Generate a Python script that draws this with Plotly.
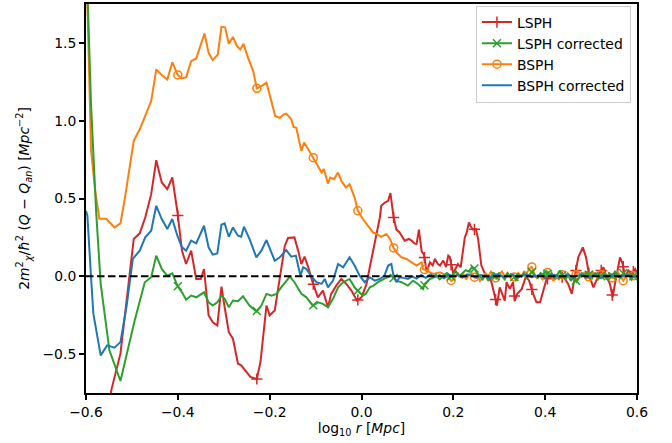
import numpy as np
import plotly.graph_objects as go

# x = log10 r [Mpc], y = 2 m_chi^2/hbar^2 (Q - Q_an) [Mpc^-2]

LSPH_X = [
    -0.600, -0.575, -0.548, -0.545, -0.525, -0.512, -0.496, -0.483, -0.471, -0.458,
    -0.447, -0.435, -0.423, -0.412, -0.401, -0.391, -0.382, -0.371, -0.360, -0.350,
    -0.343, -0.333, -0.324, -0.314, -0.305, -0.298, -0.289, -0.280, -0.269, -0.262,
    -0.254, -0.242, -0.228, -0.220, -0.207, -0.200, -0.189, -0.178, -0.167, -0.160,
    -0.146, -0.138, -0.131, -0.124, -0.116, -0.106, -0.095, -0.084, -0.073, -0.066,
    -0.055, -0.044, -0.033, -0.022, -0.010, 0.000, 0.011, 0.018, 0.029, 0.040,
    0.043, 0.051, 0.058, 0.063, 0.070, 0.076, 0.083, 0.094, 0.103, 0.109,
    0.116, 0.120, 0.125, 0.131, 0.136, 0.142, 0.149, 0.155, 0.160, 0.166,
    0.171, 0.178, 0.184, 0.189, 0.192, 0.196, 0.200, 0.205, 0.210, 0.216,
    0.221, 0.225, 0.229, 0.234, 0.238, 0.243, 0.249, 0.254, 0.261, 0.269,
    0.276, 0.283, 0.290, 0.295, 0.301, 0.307, 0.312, 0.316, 0.323, 0.330,
    0.334, 0.339, 0.349, 0.358, 0.365, 0.374, 0.381, 0.389, 0.396, 0.402,
    0.410, 0.421, 0.432, 0.443, 0.450, 0.458, 0.465, 0.472, 0.482, 0.489,
    0.496, 0.505, 0.513, 0.519, 0.527, 0.534, 0.541, 0.547, 0.552, 0.559,
    0.563, 0.569, 0.574, 0.581, 0.588, 0.596, 0.600,
]
LSPH_Y = [
    -1.50, -1.10, -0.80, -0.733, -0.497, -0.156, 0.240, 0.276, 0.378, 0.528,
    0.746, 0.603, 0.560, 0.635, 0.415, 0.165, 0.079, 0.165, -0.017, -0.017,
    0.047, -0.252, -0.295, -0.316, -0.066, -0.199, -0.359, -0.401, -0.562, -0.572,
    -0.604, -0.647, -0.660, -0.551, -0.188, -0.252, -0.220, -0.006, 0.197, 0.246,
    0.250, 0.165, 0.079, 0.126, 0.058, -0.042, -0.135, -0.092, -0.199, -0.113,
    -0.060, -0.017, -0.049, -0.092, -0.156, -0.135, -0.049, 0.058, 0.229, 0.378,
    0.453, 0.474, 0.485, 0.535, 0.378, 0.300, 0.282, 0.229, 0.240, 0.229,
    0.210, 0.208, 0.300, 0.160, 0.139, 0.030, 0.090, 0.070, 0.112, 0.080,
    0.069, 0.101, 0.060, 0.133, 0.126, 0.058, 0.015, 0.050, 0.079, 0.058,
    0.165, 0.250, 0.280, 0.346, 0.320, 0.300, 0.304, 0.240, 0.069, 0.015,
    0.004, -0.038, -0.124, -0.188, -0.071, -0.124, -0.156, -0.038, -0.081, -0.038,
    -0.156, -0.113, -0.081, -0.002, -0.028, -0.113, -0.167, -0.167, -0.092, -0.028,
    0.004, -0.017, 0.004, -0.017, -0.049, -0.113, 0.004, 0.122, 0.186, 0.122,
    0.004, -0.071, -0.017, 0.026, 0.058, -0.006, -0.049, -0.135, -0.049, 0.058,
    0.122, 0.079, -0.006, 0.037, 0.015, 0.047, 0.020,
]

BSPH_X = [
    -0.600, -0.597, -0.589, -0.580, -0.571, -0.556, -0.538, -0.525, -0.516, -0.496,
    -0.483, -0.472, -0.458, -0.447, -0.435, -0.423, -0.412, -0.401, -0.392, -0.382,
    -0.371, -0.360, -0.342, -0.333, -0.324, -0.313, -0.305, -0.297, -0.289, -0.280,
    -0.271, -0.264, -0.257, -0.247, -0.236, -0.228, -0.218, -0.207, -0.198, -0.188,
    -0.178, -0.169, -0.164, -0.153, -0.148, -0.142, -0.131, -0.125, -0.116, -0.103,
    -0.095, -0.087, -0.082, -0.073, -0.068, -0.060, -0.051, -0.044, -0.034, -0.026,
    -0.015, -0.008, 0.003, 0.014, 0.025, 0.033, 0.043, 0.054, 0.062, 0.070,
    0.076, 0.087, 0.098, 0.109, 0.120, 0.131, 0.134, 0.142, 0.156, 0.171,
    0.185, 0.196, 0.203, 0.210, 0.216, 0.222, 0.228, 0.234, 0.240, 0.246,
    0.252, 0.258, 0.264, 0.270, 0.276, 0.282, 0.288, 0.294, 0.300, 0.306,
    0.312, 0.318, 0.324, 0.330, 0.336, 0.342, 0.348, 0.354, 0.360, 0.366,
    0.371, 0.376, 0.382, 0.388, 0.394, 0.400, 0.406, 0.412, 0.418, 0.424,
    0.430, 0.437, 0.443, 0.449, 0.455, 0.461, 0.467, 0.473, 0.479, 0.485,
    0.491, 0.497, 0.503, 0.509, 0.515, 0.522, 0.528, 0.534, 0.540, 0.546,
    0.552, 0.558, 0.564, 0.570, 0.576, 0.582, 0.588, 0.594, 0.600,
]
BSPH_Y = [
    1.95, 1.75, 0.81, 0.55, 0.37, 0.37, 0.314, 0.34, 0.49, 0.87,
    0.945, 1.03, 1.126, 1.33, 1.293, 1.265, 1.376, 1.297, 1.272, 1.28,
    1.383, 1.40, 1.56, 1.436, 1.389, 1.425, 1.603, 1.60, 1.494, 1.538,
    1.479, 1.458, 1.494, 1.404, 1.319, 1.208, 1.222, 1.244, 1.137, 1.03,
    1.019, 1.041, 1.045, 1.009, 0.96, 0.955, 0.806, 0.859, 0.817, 0.752,
    0.71, 0.667, 0.689, 0.596, 0.635, 0.624, 0.667, 0.613, 0.571, 0.592,
    0.506, 0.421, 0.368, 0.325, 0.282, 0.272, 0.254, 0.272, 0.24, 0.182,
    0.154, 0.122, 0.111, 0.09, 0.069, 0.09, 0.047, 0.037, 0.015, 0.026,
    0.004, -0.03, -0.01, 0.02, -0.005, 0.015, -0.02, 0.01, 0.02, -0.006,
    0.01, -0.03, -0.01, 0.02, 0.0, 0.03, 0.01, -0.02, 0.015, 0.03,
    0.0, 0.02, -0.01, 0.01, -0.02, 0.02, 0.0, 0.03, 0.02, 0.05,
    0.06, 0.02, -0.01, 0.01, -0.02, 0.0, 0.03, 0.01, -0.03, 0.0,
    -0.02, 0.01, -0.01, 0.02, 0.0, -0.02, 0.01, 0.03, 0.0, 0.02,
    -0.01, 0.0, 0.03, 0.01, -0.02, 0.01, 0.03, 0.0, 0.02, -0.01,
    0.01, 0.03, 0.0, -0.028, 0.0, 0.02, -0.01, 0.01, 0.0,
]

BSPH_CORR_X = [
    -0.600, -0.597, -0.589, -0.584, -0.568, -0.554, -0.538, -0.525, -0.512, -0.498,
    -0.483, -0.471, -0.458, -0.447, -0.435, -0.423, -0.412, -0.401, -0.391, -0.382,
    -0.371, -0.360, -0.343, -0.333, -0.324, -0.314, -0.305, -0.298, -0.289, -0.280,
    -0.269, -0.262, -0.256, -0.244, -0.229, -0.218, -0.207, -0.196, -0.189, -0.178,
    -0.164, -0.153, -0.143, -0.133, -0.127, -0.120, -0.109, -0.098, -0.087, -0.080,
    -0.073, -0.062, -0.051, -0.040, -0.026, -0.015, -0.004, 0.007, 0.018, 0.029,
    0.040, 0.050, 0.058, 0.065, 0.069, 0.076, 0.083, 0.091, 0.101, 0.110,
    0.120, 0.130, 0.140, 0.150, 0.160, 0.170, 0.180, 0.190, 0.200, 0.210,
    0.220, 0.230, 0.240, 0.250, 0.260, 0.270, 0.280, 0.290, 0.300, 0.310,
    0.320, 0.330, 0.340, 0.350, 0.360, 0.370, 0.380, 0.390, 0.400, 0.410,
    0.420, 0.430, 0.440, 0.450, 0.460, 0.470, 0.480, 0.490, 0.500, 0.510,
    0.520, 0.530, 0.540, 0.550, 0.560, 0.570, 0.580, 0.590, 0.600,
]
BSPH_CORR_Y = [
    0.42, 0.39, -0.006, -0.24, -0.508, -0.444, -0.459, -0.423, -0.199, 0.112,
    0.165, 0.25, 0.293, 0.453, 0.368, 0.304, 0.368, 0.261, 0.186, 0.165,
    0.229, 0.212, 0.325, 0.186, 0.139, 0.147, 0.331, 0.34, 0.254, 0.314,
    0.261, 0.254, 0.319, 0.24, 0.122, 0.165, 0.233, 0.144, 0.10, 0.122,
    0.169, 0.126, 0.133, 0.004, 0.058, 0.047, -0.002, -0.038, -0.049, -0.017,
    -0.071, -0.028, 0.079, 0.058, 0.122, 0.069, 0.004, -0.038, -0.006, -0.028,
    -0.017, 0.004, 0.069, 0.079, 0.015, -0.038, -0.006, -0.01, -0.017, 0.0,
    -0.015, 0.008, -0.01, 0.012, -0.005, 0.008, -0.012, 0.01, 0.0, 0.008,
    -0.008, 0.012, 0.004, -0.01, 0.008, 0.0, -0.012, 0.006, 0.01, -0.004,
    0.0, 0.01, -0.008, 0.004, 0.012, -0.006, 0.0, 0.01, -0.01, 0.006,
    0.01, -0.004, 0.0, 0.012, -0.008, 0.004, 0.01, -0.006, 0.0, 0.008,
    -0.01, 0.006, 0.0, 0.012, -0.006, 0.004, 0.01, -0.004, 0.0,
]

LSPH_CORR_X = [
    -0.600, -0.596, -0.589, -0.578, -0.568, -0.549, -0.525, -0.509, -0.494, -0.472,
    -0.458, -0.447, -0.435, -0.423, -0.412, -0.401, -0.391, -0.382, -0.371, -0.360,
    -0.343, -0.333, -0.324, -0.314, -0.305, -0.298, -0.289, -0.280, -0.269, -0.258,
    -0.244, -0.229, -0.218, -0.207, -0.196, -0.185, -0.175, -0.156, -0.146, -0.131,
    -0.120, -0.106, -0.095, -0.084, -0.073, -0.062, -0.051, -0.040, -0.026, -0.015,
    -0.008, 0.003, 0.010, 0.018, 0.026, 0.036, 0.051, 0.065, 0.076, 0.087,
    0.101, 0.112, 0.123, 0.134, 0.138, 0.149, 0.155, 0.162, 0.170, 0.178,
    0.185, 0.192, 0.199, 0.206, 0.213, 0.220, 0.227, 0.234, 0.240, 0.246,
    0.252, 0.258, 0.264, 0.270, 0.276, 0.282, 0.288, 0.294, 0.300, 0.306,
    0.312, 0.318, 0.324, 0.330, 0.336, 0.342, 0.348, 0.354, 0.360, 0.366,
    0.372, 0.378, 0.384, 0.390, 0.396, 0.402, 0.408, 0.414, 0.420, 0.426,
    0.432, 0.438, 0.444, 0.450, 0.456, 0.462, 0.468, 0.474, 0.480, 0.486,
    0.492, 0.498, 0.504, 0.510, 0.516, 0.522, 0.528, 0.534, 0.540, 0.546,
    0.552, 0.558, 0.564, 0.570, 0.576, 0.582, 0.588, 0.594, 0.600,
]
LSPH_CORR_Y = [
    2.0, 1.75, 1.10, 0.42, -0.049, -0.476, -0.673, -0.476, -0.284, -0.038,
    -0.006, 0.133, 0.047, 0.004, 0.019, -0.06, -0.103, -0.151, -0.124, -0.135,
    -0.103, -0.167, -0.188, -0.167, -0.124, -0.145, -0.199, -0.156, -0.16, -0.128,
    -0.188, -0.226, -0.188, -0.113, -0.124, -0.113, -0.071, -0.002, -0.038, -0.113,
    -0.135, -0.188, -0.167, -0.177, -0.199, -0.145, -0.071, -0.038, -0.017, -0.071,
    -0.092, -0.124, -0.11, -0.071, -0.06, -0.038, -0.013, 0.004, -0.028, -0.038,
    -0.06, -0.028, -0.049, -0.081, -0.049, -0.017, -0.01, 0.01, -0.02, 0.0,
    0.02, -0.01, 0.01, 0.03, 0.0, 0.02, 0.04, 0.03, 0.058, 0.05,
    0.02, 0.0, -0.02, 0.01, -0.03, 0.0, 0.02, -0.01, 0.01, 0.0,
    -0.02, 0.02, 0.0, 0.01, -0.02, 0.01, 0.0, 0.02, -0.01, 0.01,
    0.03, 0.0, -0.01, 0.02, 0.01, 0.032, 0.0, 0.02, -0.01, 0.01,
    0.037, 0.0, -0.02, 0.01, -0.03, 0.0, -0.035, -0.01, 0.02, 0.0,
    0.03, -0.01, 0.01, 0.02, -0.01, 0.0, 0.02, -0.02, 0.01, 0.0,
    0.03, 0.01, -0.01, 0.02, 0.0, 0.01, -0.02, 0.01, 0.0,
]

# positions of the sparse markers along each curve
MARK_X = [-0.400, -0.228, -0.105, -0.008, 0.070, 0.137, 0.195, 0.246, 0.292, 0.333,
          0.371, 0.405, 0.437, 0.467, 0.495, 0.522, 0.546, 0.570, 0.592]

X_TICKS = [-0.6, -0.4, -0.2, 0.0, 0.2, 0.4, 0.6]
Y_TICKS = [-0.5, 0.0, 0.5, 1.0, 1.5]

RED, GREEN, ORANGE, BLUE = "#d62728", "#2ca02c", "#ff7f0e", "#1f77b4"
FONT = "DejaVu Sans"
LW = 2

series = [
    ("LSPH", LSPH_X, LSPH_Y, RED, "cross-thin"),
    ("BSPH", BSPH_X, BSPH_Y, ORANGE, "circle-open"),
    ("LSPH corrected", LSPH_CORR_X, LSPH_CORR_Y, GREEN, "x-thin"),
    ("BSPH corrected", BSPH_CORR_X, BSPH_CORR_Y, BLUE, None),
]

fig = go.Figure()
for name, xs, ys, col, sym in series:
    assert len(xs) == len(ys), (name, len(xs), len(ys))
    fig.add_trace(go.Scatter(x=xs, y=ys, mode="lines", line=dict(color=col, width=LW),
                             showlegend=False, hoverinfo="skip"))
    if sym:
        my = np.interp(MARK_X, xs, ys)
        fig.add_trace(go.Scatter(x=MARK_X, y=my, mode="markers", showlegend=False,
                                 marker=dict(symbol=sym, size=8, color=col,
                                             line=dict(color=col, width=1.5))))

# legend entries
legend_order = [
    ("LSPH", RED, "cross-thin"),
    ("LSPH corrected", GREEN, "x-thin"),
    ("BSPH", ORANGE, "circle-open"),
    ("BSPH corrected", BLUE, None),
]
for name, col, sym in legend_order:
    kw = dict(mode="lines")
    if sym:
        kw = dict(mode="lines+markers",
                  marker=dict(symbol=sym, size=8, color=col, line=dict(color=col, width=1.5)))
    fig.add_trace(go.Scatter(x=[None], y=[None], name=name, line=dict(color=col, width=LW), **kw))

# zero reference line
fig.add_shape(type="line", xref="x", yref="y", x0=-0.6, x1=0.6, y0=0, y1=0,
              line=dict(color="black", width=2, dash="7.5px,3.5px"), layer="above")

axis_common = dict(showgrid=False, zeroline=False, showline=True, linecolor="black",
                   linewidth=2, mirror=True, ticks="outside", ticklen=5, tickwidth=1.5,
                   tickcolor="black", tickformat=".1f",
                   tickfont=dict(family=FONT, size=13.9, color="black"))

fig.update_layout(
    width=672, height=443,
    margin=dict(l=86, r=35, t=2, b=50),
    paper_bgcolor="white", plot_bgcolor="white",
    font=dict(family=FONT, size=13.9, color="black"),
    xaxis=dict(range=[-0.6, 0.6], tickvals=X_TICKS,
               title=dict(text="log<sub>10</sub> <i>r</i> [<i>Mpc</i>]", standoff=4,
                          font=dict(family=FONT, size=13.9)),
               **axis_common),
    yaxis=dict(range=[-0.75, 1.75], tickvals=Y_TICKS,
               title=dict(text="2<i>m</i><sup>2</sup><sub><i>χ</i></sub>/<i>ħ</i><sup>2</sup> "
                               "(<i>Q</i> − <i>Q</i><sub><i>an</i></sub>) [<i>Mpc</i><sup>−2</sup>]",
                          standoff=10, font=dict(family=FONT, size=13.9)),
               **axis_common),
    legend=dict(x=0.989, y=0.996, xanchor="right", yanchor="top",
                bgcolor="rgba(255,255,255,0.8)", bordercolor="#cccccc", borderwidth=1,
                font=dict(family=FONT, size=13.9), itemwidth=30,
                tracegroupgap=0),
    showlegend=True,
)

fig.write_html("out.html")
